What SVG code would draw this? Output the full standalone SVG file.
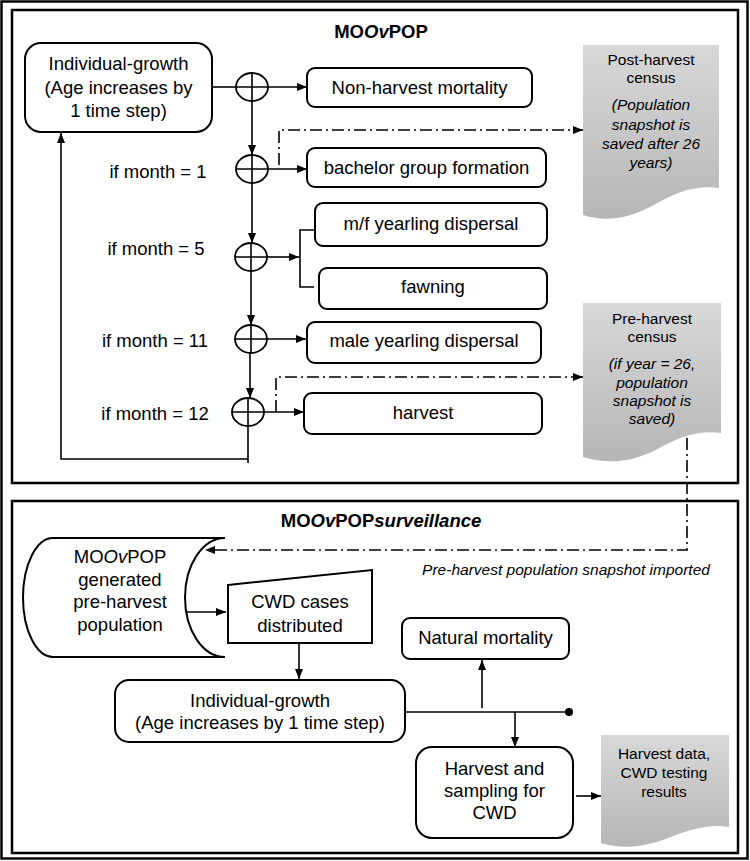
<svg xmlns="http://www.w3.org/2000/svg" width="750" height="861" viewBox="0 0 750 861">
<style>
  text { font-family: "Liberation Sans", Arial, sans-serif; fill: #000; }
  .t { font-size: 18.5px; text-anchor: middle; }
  .d { font-size: 15.5px; text-anchor: middle; }
  .it { font-style: italic; }
  .title { font-size: 18.5px; font-weight: bold; text-anchor: middle; }
  .box { fill: #fff; stroke: #000; stroke-width: 2; }
  .doc { fill: url(#g); stroke: none; }
  .frame { fill: none; stroke: #000; stroke-width: 2.5; }
  .ln { fill: none; stroke: #000; stroke-width: 1.6; }
  .ar { fill: none; stroke: #000; stroke-width: 1.6; marker-end: url(#ah); }
  .dd { fill: none; stroke: #000; stroke-width: 1.6; stroke-dasharray: 12 4 2 4; marker-end: url(#ah); }
  .jx { fill: #fff; stroke: #000; stroke-width: 1.8; }
</style>
<defs>
  <linearGradient id="g" x1="0" y1="0" x2="0" y2="1">
    <stop offset="0" stop-color="#d8d8d8"/>
    <stop offset="1" stop-color="#b6b6b6"/>
  </linearGradient>
  <marker id="ah" markerUnits="userSpaceOnUse" markerWidth="10" markerHeight="8" refX="10" refY="4" orient="auto">
    <path d="M0,0 L10,4 L0,8 Z" fill="#000"/>
  </marker>
</defs>
<rect width="750" height="861" fill="#fff"/>

<g id="frames">
  <rect class="frame" x="1.5" y="1.5" width="746" height="857"/>
  <rect class="frame" x="12" y="10" width="726" height="473"/>
  <rect class="frame" x="12" y="501" width="726" height="352"/>
</g>

<g id="title-top"><text class="title" x="381" y="38">MO<tspan class="it">Ov</tspan>POP</text></g>
<g id="title-bottom"><text class="title" x="381" y="527">MO<tspan class="it">Ov</tspan>POP<tspan class="it">surveillance</tspan></text></g>

<g id="connectors">
  <path class="ln" d="M212,87 H236"/>
  <path class="ar" d="M268,87 H307"/>
  <path class="ar" d="M252,101 V155"/>
  <path class="ar" d="M268,169 H307"/>
  <path class="dd" d="M279,165 V130 H583"/>
  <path class="ar" d="M252,183 V243"/>
  <path class="ar" d="M267,257 H299"/>
  <path class="ln" d="M315,230 H300 V287 H314"/>
  <path class="ar" d="M251,271 V325"/>
  <path class="ar" d="M267,339 H306"/>
  <path class="ar" d="M250,353 V398"/>
  <path class="ar" d="M264,412 H304"/>
  <path class="dd" d="M276,412 V377 H583"/>
  <path class="ln" d="M248,426 V463"/>
  <path class="ar" d="M248,459 H61 V133"/>
  <path class="dd" d="M687,438 V550 H205"/>
  <path class="ar" d="M185,612 H226"/>
  <path class="ar" d="M299,643 V679"/>
  <path class="ln" d="M404,712 H569"/>
  <circle cx="569" cy="712" r="4" fill="#000"/>
  <path class="ar" d="M482,708 V660"/>
  <path class="ar" d="M515,712 V747"/>
  <path class="ar" d="M576,796 H601"/>
</g>

<g id="j1"><ellipse class="jx" cx="252" cy="87" rx="16" ry="14"/><path class="ln" d="M236,87 H268 M252,73 V101"/></g>
<g id="j2"><ellipse class="jx" cx="252" cy="169" rx="16" ry="14"/><path class="ln" d="M236,169 H268 M252,155 V183"/></g>
<g id="j3"><ellipse class="jx" cx="251" cy="257" rx="16" ry="14"/><path class="ln" d="M235,257 H267 M251,243 V271"/></g>
<g id="j4"><ellipse class="jx" cx="251" cy="339" rx="16" ry="14"/><path class="ln" d="M235,339 H267 M251,325 V353"/></g>
<g id="j5"><ellipse class="jx" cx="248" cy="412" rx="16" ry="14"/><path class="ln" d="M232,412 H264 M248,398 V426"/></g>

<g id="lbl-m1"><text class="t" x="158" y="178">if month = 1</text></g>
<g id="lbl-m5"><text class="t" x="156" y="255">if month = 5</text></g>
<g id="lbl-m11"><text class="t" x="155" y="347">if month = 11</text></g>
<g id="lbl-m12"><text class="t" x="155" y="420">if month = 12</text></g>

<g id="growth-top">
  <rect class="box" x="25" y="43" width="187" height="89" rx="16"/>
  <text class="t" x="118.5" y="70">Individual-growth</text>
  <text class="t" x="118.5" y="94">(Age increases by</text>
  <text class="t" x="118.5" y="117">1 time step)</text>
</g>
<g id="nonharvest">
  <rect class="box" x="307" y="68" width="225" height="39" rx="8"/>
  <text class="t" x="419.5" y="94">Non-harvest mortality</text>
</g>
<g id="bachelor">
  <rect class="box" x="307" y="148" width="239" height="39" rx="8"/>
  <text class="t" x="426.5" y="174">bachelor group formation</text>
</g>
<g id="mf">
  <rect class="box" x="315" y="203" width="232" height="43" rx="8"/>
  <text class="t" x="431" y="230">m/f yearling dispersal</text>
</g>
<g id="fawning">
  <rect class="box" x="319" y="268" width="228" height="41" rx="8"/>
  <text class="t" x="433" y="293">fawning</text>
</g>
<g id="male">
  <rect class="box" x="307" y="322" width="234" height="41" rx="8"/>
  <text class="t" x="424" y="347">male yearling dispersal</text>
</g>
<g id="harvest">
  <rect class="box" x="304" y="393" width="238" height="41" rx="8"/>
  <text class="t" x="423" y="419">harvest</text>
</g>

<g id="post-census">
  <path class="doc" d="M583,45 H719 V188 C700,185 681,190 661,201 C640,213 615,225 583,215 Z"/>
  <text class="d" x="651" y="65">Post-harvest</text>
  <text class="d" x="651" y="83">census</text>
  <text class="d it" x="651" y="110">(Population</text>
  <text class="d it" x="651" y="130">snapshot is</text>
  <text class="d it" x="651" y="149">saved after 26</text>
  <text class="d it" x="651" y="168">years)</text>
</g>
<g id="pre-census">
  <path class="doc" d="M583,303 H721 V433 C702,430 683,435 663,446 C642,458 617,467 583,457 Z"/>
  <text class="d" x="652" y="324">Pre-harvest</text>
  <text class="d" x="652" y="342">census</text>
  <text class="d it" x="652" y="369">(if year = 26,</text>
  <text class="d it" x="652" y="388">population</text>
  <text class="d it" x="652" y="406">snapshot is</text>
  <text class="d it" x="652" y="424">saved)</text>
</g>

<g id="import-label"><text class="d it" x="566" y="575">Pre-harvest population snapshot imported</text></g>

<g id="generated-pop">
  <path class="box" d="M53,538 H225 A40,59.5 0 0 0 225,657 H53 A30,59.5 0 0 1 53,538 Z"/>
  <text class="t" x="120" y="563">MO<tspan class="it">Ov</tspan>POP</text>
  <text class="t" x="120" y="586">generated</text>
  <text class="t" x="120" y="608">pre-harvest</text>
  <text class="t" x="120" y="631">population</text>
</g>
<g id="cwd-cases">
  <path class="box" d="M228,585 L372,570 V643 H228 Z"/>
  <text class="t" x="300" y="608">CWD cases</text>
  <text class="t" x="300" y="632">distributed</text>
</g>
<g id="growth-bottom">
  <rect class="box" x="115" y="680" width="290" height="62" rx="14"/>
  <text class="t" x="260" y="707">Individual-growth</text>
  <text class="t" x="260" y="729">(Age increases by 1 time step)</text>
</g>
<g id="natural-mortality">
  <rect class="box" x="402" y="618" width="167" height="41" rx="8"/>
  <text class="t" x="485.5" y="644">Natural mortality</text>
</g>
<g id="harvest-sampling">
  <rect class="box" x="416" y="747" width="157" height="91" rx="16"/>
  <text class="t" x="494.5" y="775">Harvest and</text>
  <text class="t" x="494.5" y="797">sampling for</text>
  <text class="t" x="494.5" y="819">CWD</text>
</g>
<g id="harvest-data">
  <path class="doc" d="M601,735 H729 V827 C712,824 695,828 676,835 C656,843 630,852 601,843 Z"/>
  <text class="d" x="664" y="759">Harvest data,</text>
  <text class="d" x="664" y="778">CWD testing</text>
  <text class="d" x="664" y="797">results</text>
</g>
</svg>
